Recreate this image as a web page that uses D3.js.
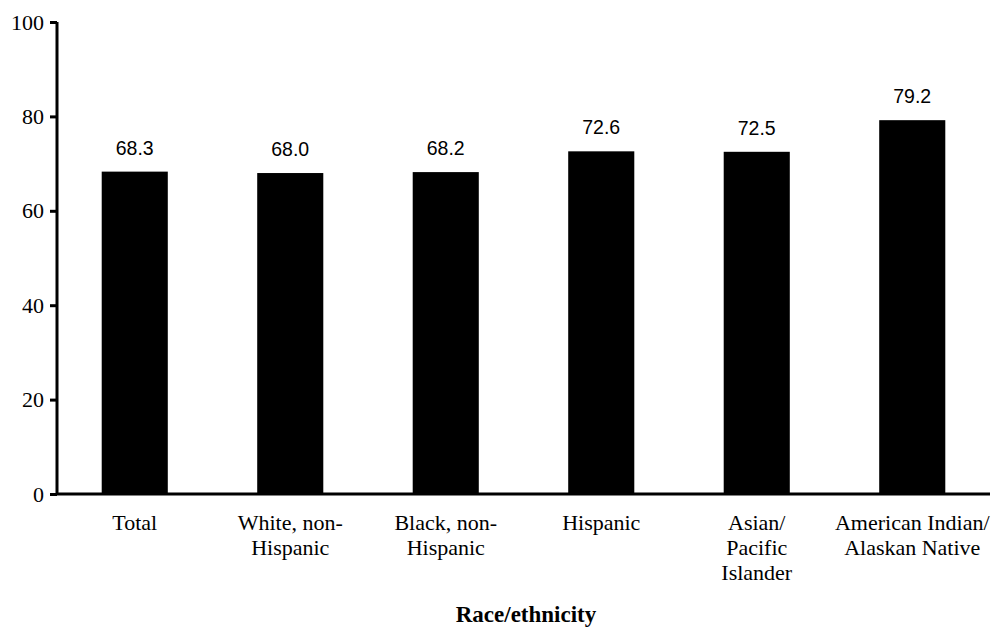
<!DOCTYPE html>
<html>
<head>
<meta charset="utf-8">
<script src="https://cdn.jsdelivr.net/npm/d3@7"></script>
<style>
  html, body { margin: 0; padding: 0; background: #fff; }
  svg { display: block; }
</style>
</head>
<body>
<svg id="chart" width="993" height="629"></svg>
<script>
const categories = [
  ["Total"],
  ["White, non-", "Hispanic"],
  ["Black, non-", "Hispanic"],
  ["Hispanic"],
  ["Asian/", "Pacific", "Islander"],
  ["American Indian/", "Alaskan Native"]
];
const values = [68.3, 68.0, 68.2, 72.6, 72.5, 79.2];
const yTicks = [0, 20, 40, 60, 80, 100];
const xTitle = "Race/ethnicity";

const svg = d3.select("#chart");
const margin = { left: 57, right: 3, top: 22, bottom: 135 };
const W = 993, H = 629;

const x = d3.scaleBand()
  .domain(d3.range(categories.length))
  .range([margin.left, W - margin.right])
  .paddingInner(0.575)
  .paddingOuter(0.2875);

const y = d3.scaleLinear()
  .domain([0, 100])
  .range([H - margin.bottom, margin.top]);

// bars
svg.append("g").selectAll("rect")
  .data(values)
  .join("rect")
  .attr("x", (d, i) => x(i))
  .attr("width", x.bandwidth())
  .attr("y", d => y(d))
  .attr("height", d => y(0) - y(d))
  .attr("fill", "#000");

// value labels
svg.append("g").selectAll("text")
  .data(values)
  .join("text")
  .attr("x", (d, i) => x(i) + x.bandwidth() / 2)
  .attr("y", d => y(d) - 17)
  .attr("text-anchor", "middle")
  .attr("font-family", "'Liberation Sans', Arial, sans-serif")
  .attr("font-size", 19.5)
  .attr("fill", "#000")
  .text(d => d.toFixed(1));

// y axis
const yAxis = d3.axisLeft(y).tickValues(yTicks).tickSize(7).tickPadding(6);
const gy = svg.append("g")
  .attr("transform", `translate(${margin.left},0)`)
  .call(yAxis);
gy.select(".domain").attr("stroke", "#000").attr("stroke-width", 3)
  .attr("d", `M0,${y(100)}V${y(0)}`);
gy.selectAll(".tick line").attr("stroke", "#000").attr("stroke-width", 3);
gy.selectAll(".tick text")
  .attr("font-family", "'Liberation Serif', 'Times New Roman', serif")
  .attr("font-size", 22)
  .attr("fill", "#000");

// x axis
const xAxis = d3.axisBottom(x).tickSize(0).tickFormat("");
const gx = svg.append("g")
  .attr("transform", `translate(0,${y(0)})`)
  .call(xAxis);
gx.select(".domain").attr("stroke", "#000").attr("stroke-width", 3)
  .attr("d", `M${margin.left - 1},0H${W - margin.right}`);

// category labels
const catG = svg.append("g");
categories.forEach((lines, i) => {
  const t = catG.append("text")
    .attr("x", x(i) + x.bandwidth() / 2)
    .attr("y", y(0) + 36)
    .attr("text-anchor", "middle")
    .attr("font-family", "'Liberation Serif', 'Times New Roman', serif")
    .attr("font-size", 22)
    .attr("fill", "#000");
  lines.forEach((ln, j) => {
    t.append("tspan")
      .attr("x", x(i) + x.bandwidth() / 2)
      .attr("dy", j === 0 ? 0 : 25)
      .text(ln);
  });
});

// x title
svg.append("text")
  .attr("x", 526)
  .attr("y", 622)
  .attr("text-anchor", "middle")
  .attr("font-family", "'Liberation Serif', 'Times New Roman', serif")
  .attr("font-weight", "bold")
  .attr("font-size", 23)
  .attr("fill", "#000")
  .text(xTitle);
</script>
</body>
</html>
